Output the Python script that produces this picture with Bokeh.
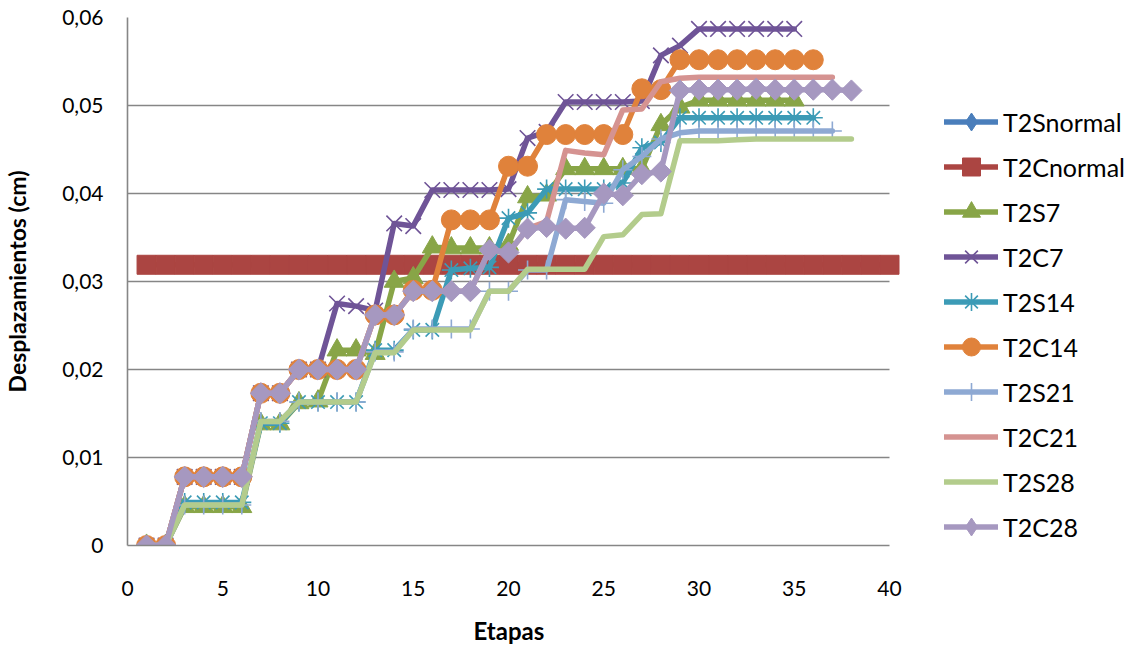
from math import pi, nan

from bokeh.plotting import figure
from bokeh.models import (Range1d, FixedTicker, CustomJSTickFormatter, Legend,
                          LegendItem, ColumnDataSource, Title)
from bokeh.embed import file_html
from bokeh.resources import INLINE

# ---- data: displacement (cm) per stage ---------------------------------
x_ticks = [0, 5, 10, 15, 20, 25, 30, 35, 40]
y_ticks = [0, 0.01, 0.02, 0.03, 0.04, 0.05, 0.06]

t2s_normal = []

t2c_normal = [0.0319, 0.0319, 0.0319, 0.0319, 0.0319, 0.0319, 0.0319, 0.0319,
              0.0319, 0.0319, 0.0319, 0.0319, 0.0319, 0.0319, 0.0319, 0.0319,
              0.0319, 0.0319, 0.0319, 0.0319, 0.0319, 0.0319, 0.0319, 0.0319,
              0.0319, 0.0319, 0.0319, 0.0319, 0.0319, 0.0319, 0.0319, 0.0319,
              0.0319, 0.0319, 0.0319, 0.0319, 0.0319, 0.0319, 0.0319, 0.0319]

t2s7 = [0, 0, 0.0044, 0.0044, 0.0044, 0.0044, 0.0138, 0.0138, 0.0162, 0.0164,
        0.0222, 0.0222, 0.0218, 0.0300, 0.0304, 0.0339, 0.0338, 0.0338, 0.0338,
        0.0342, 0.0396, 0.0398, 0.0428, 0.0428, 0.0428, 0.0428, 0.0428, 0.0478,
        0.0498, 0.0506, 0.0506, 0.0506, 0.0506, 0.0506, 0.0506]

t2c7 = [0, 0, 0.0078, 0.0078, 0.0078, 0.0078, 0.0173, 0.0173, 0.0200, 0.0200,
        0.0275, 0.0272, 0.0267, 0.0366, 0.0363, 0.0404, 0.0404, 0.0404, 0.0404,
        0.0405, 0.0463, 0.0470, 0.0504, 0.0504, 0.0504, 0.0504, 0.0505, 0.0557,
        0.0568, 0.0587, 0.0587, 0.0587, 0.0587, 0.0587, 0.0587]

t2s14 = [0, 0, 0.0049, 0.0049, 0.0049, 0.0049, 0.0139, 0.0139, 0.0163, 0.0163,
         0.0163, 0.0163, 0.0222, 0.0222, 0.0245, 0.0245, 0.0313, 0.0315, 0.0316,
         0.0372, 0.0378, 0.0405, 0.0405, 0.0405, 0.0405, 0.0412, 0.0452, 0.0458,
         0.0486, 0.0486, 0.0486, 0.0486, 0.0486, 0.0486, 0.0486, 0.0486]

t2c14 = [0, 0, 0.0078, 0.0078, 0.0078, 0.0078, 0.0173, 0.0173, 0.0200, 0.0200,
         0.0200, 0.0200, 0.0262, 0.0262, 0.0290, 0.0290, 0.0370, 0.0370, 0.0370,
         0.0431, 0.0431, 0.0467, 0.0467, 0.0467, 0.0467, 0.0467, 0.0519, 0.0518,
         0.0552, 0.0552, 0.0552, 0.0552, 0.0552, 0.0552, 0.0552, 0.0552]

t2s21 = [0, 0, 0.0046, 0.0046, 0.0046, 0.0046, 0.0141, 0.0141, 0.0163, 0.0163,
         0.0163, 0.0163, 0.0220, 0.0220, 0.0246, 0.0246, 0.0246, 0.0246, 0.0289,
         0.0289, 0.0313, 0.0313, 0.0393, 0.0391, 0.0389, 0.0427, 0.0442, 0.0462,
         0.0469, 0.0471, 0.0471, 0.0471, 0.0471, 0.0471, 0.0471, 0.0471, 0.0471]

t2c21 = [0, 0, 0.0078, 0.0078, 0.0078, 0.0078, 0.0173, 0.0173, 0.0200, 0.0200,
         0.0200, 0.0200, 0.0262, 0.0262, 0.0289, 0.0289, 0.0289, 0.0289, 0.0336,
         0.0333, 0.0360, 0.0368, 0.0449, 0.0446, 0.0444, 0.0495, 0.0496, 0.0527,
         0.0531, 0.0532, 0.0532, 0.0532, 0.0532, 0.0532, 0.0532, 0.0532, 0.0532]

t2s28 = [0, 0, 0.0046, 0.0046, 0.0046, 0.0046, 0.0141, 0.0141, 0.0163, 0.0163,
         0.0163, 0.0163, 0.0219, 0.0219, 0.0245, 0.0245, 0.0245, 0.0245, 0.0289,
         0.0289, 0.0314, 0.0314, 0.0314, 0.0314, 0.0351, 0.0353, 0.0376, 0.0377,
         0.0460, 0.0460, 0.0460, 0.0461, 0.0462, 0.0462, 0.0462, 0.0462, 0.0462,
         0.0462]

t2c28 = [0, 0, 0.0078, 0.0078, 0.0078, 0.0078, 0.0173, 0.0173, 0.0200, 0.0200,
         0.0200, 0.0200, 0.0262, 0.0262, 0.0289, 0.0289, 0.0289, 0.0289, 0.0336,
         0.0333, 0.0360, 0.0362, 0.0360, 0.0361, 0.0400, 0.0398, 0.0422, 0.0425,
         0.0517, 0.0518, 0.0518, 0.0518, 0.0519, 0.0518, 0.0518, 0.0518, 0.0518,
         0.0517]

# ---- styling per series: (label, values, colour, marker, size, filled)
# "diamond" is drawn as a square turned 45 degrees
series = [
    ("T2Snormal", t2s_normal, "#4A7EBB", "diamond",  15, True),
    ("T2Cnormal", t2c_normal, "#AB4542", "square",   19, True),
    ("T2S7",      t2s7,       "#88A547", "triangle", 20, True),
    ("T2C7",      t2c7,       "#6F5497", "x",        22, False),
    ("T2S14",     t2s14,      "#3C9BB6", "asterisk", 19, False),
    ("T2C14",     t2c14,      "#E0823B", "circle",   20, True),
    ("T2S21",     t2s21,      "#8EA9D3", "cross",    19, False),
    ("T2C21",     t2c21,      "#D59391", None,       0,  True),
    ("T2S28",     t2s28,      "#B3CC8C", None,       0,  True),
    ("T2C28",     t2c28,      "#A698C0", "diamond",  15, True),
]

FONT = "Lato"
GRID = "#868686"
LINE_W = 5.5

# plot area: x = 0..40 spans 762 px; the frame continues to the right edge
# so the legend (drawn inside the frame) is not clipped
X_MAX = 40
FRAME_W = 1127 - 127
x_end = X_MAX * FRAME_W / 762

p = figure(width=1127, height=659, output_backend="svg", toolbar_location=None,
           x_range=Range1d(0, x_end), y_range=Range1d(0, 0.06),
           min_border_left=127, min_border_right=0,
           min_border_top=17, min_border_bottom=113,
           background_fill_color="white", border_fill_color="white")
p.outline_line_color = None

# one-point, off-canvas source used only for legend swatches
swatch = ColumnDataSource(dict(x=[nan], y=[nan]))

items = []
for label, values, color, marker, size, filled in series:
    src = ColumnDataSource(dict(x=list(range(1, len(values) + 1)), y=values))
    line = p.line("x", "y", source=src, line_color=color, line_width=LINE_W,
                  line_join="round", line_cap="round")
    renderers = [line]
    if len(values) == 0:
        renderers = [p.line("x", "y", source=swatch, line_color=color,
                            line_width=LINE_W, line_cap="round")]
    if marker == "diamond":
        # plot: turned square; legend: Bokeh's diamond marker
        p.scatter("x", "y", source=src, marker="square", size=size, angle=pi / 4,
                  fill_color=color, line_color=color, line_width=1)
        renderers.append(p.scatter("x", "y", source=swatch, marker="diamond",
                                   size=size, fill_color=color, line_color=color,
                                   line_width=1))
    elif marker is not None:
        sc = p.scatter("x", "y", source=src, marker=marker, size=size,
                       fill_color=color if filled else None,
                       line_color=color, line_width=1 if filled else 1.6)
        renderers.append(sc)
    items.append(LegendItem(label=label, renderers=renderers))

# axes
p.xaxis.ticker = FixedTicker(ticks=x_ticks)
p.yaxis.ticker = FixedTicker(ticks=y_ticks)
p.xaxis.bounds = (0, X_MAX)
p.yaxis.formatter = CustomJSTickFormatter(
    code="return tick == 0 ? '0' : tick.toFixed(2).replace('.', ',');")

for ax in (p.xaxis[0], p.yaxis[0]):
    ax.axis_line_color = GRID
    ax.axis_line_width = 1.6
    ax.major_tick_line_color = None
    ax.minor_tick_line_color = None
    ax.major_tick_in = 0
    ax.major_tick_out = 0
    ax.major_label_text_font = FONT
    ax.major_label_text_font_size = "21px"
    ax.major_label_text_color = "black"
    ax.axis_label_text_font = FONT
    ax.axis_label_text_font_style = "bold"
    ax.axis_label_text_color = "black"

p.yaxis.axis_label = "Desplazamientos (cm)"
p.yaxis.axis_label_text_font_size = "23px"
p.xaxis.major_label_standoff = 35
p.yaxis.major_label_standoff = 24
p.yaxis.axis_label_standoff = 28

# x-axis title, centred under the 0..40 span rather than the whole frame
x_title = Title(text="Etapas", align="left", offset=346, vertical_align="bottom",
                standoff=30, text_font=FONT, text_font_style="bold",
                text_font_size="24px", text_color="black")
p.add_layout(x_title, "below")

p.xgrid.visible = False
p.ygrid.grid_line_color = GRID
p.ygrid.grid_line_width = 1.6
p.ygrid.cross_bounds = (0, X_MAX)

legend = Legend(items=items, location=(817, -4), orientation="vertical",
                ncols=1, glyph_width=54, glyph_height=45, label_height=45,
                spacing=0, label_standoff=5, padding=0, margin=0,
                border_line_color=None, background_fill_alpha=0,
                label_text_font=FONT, label_text_font_size="25px",
                label_text_color="black")
p.add_layout(legend)

open("out.html", "w").write(file_html(p, INLINE))
